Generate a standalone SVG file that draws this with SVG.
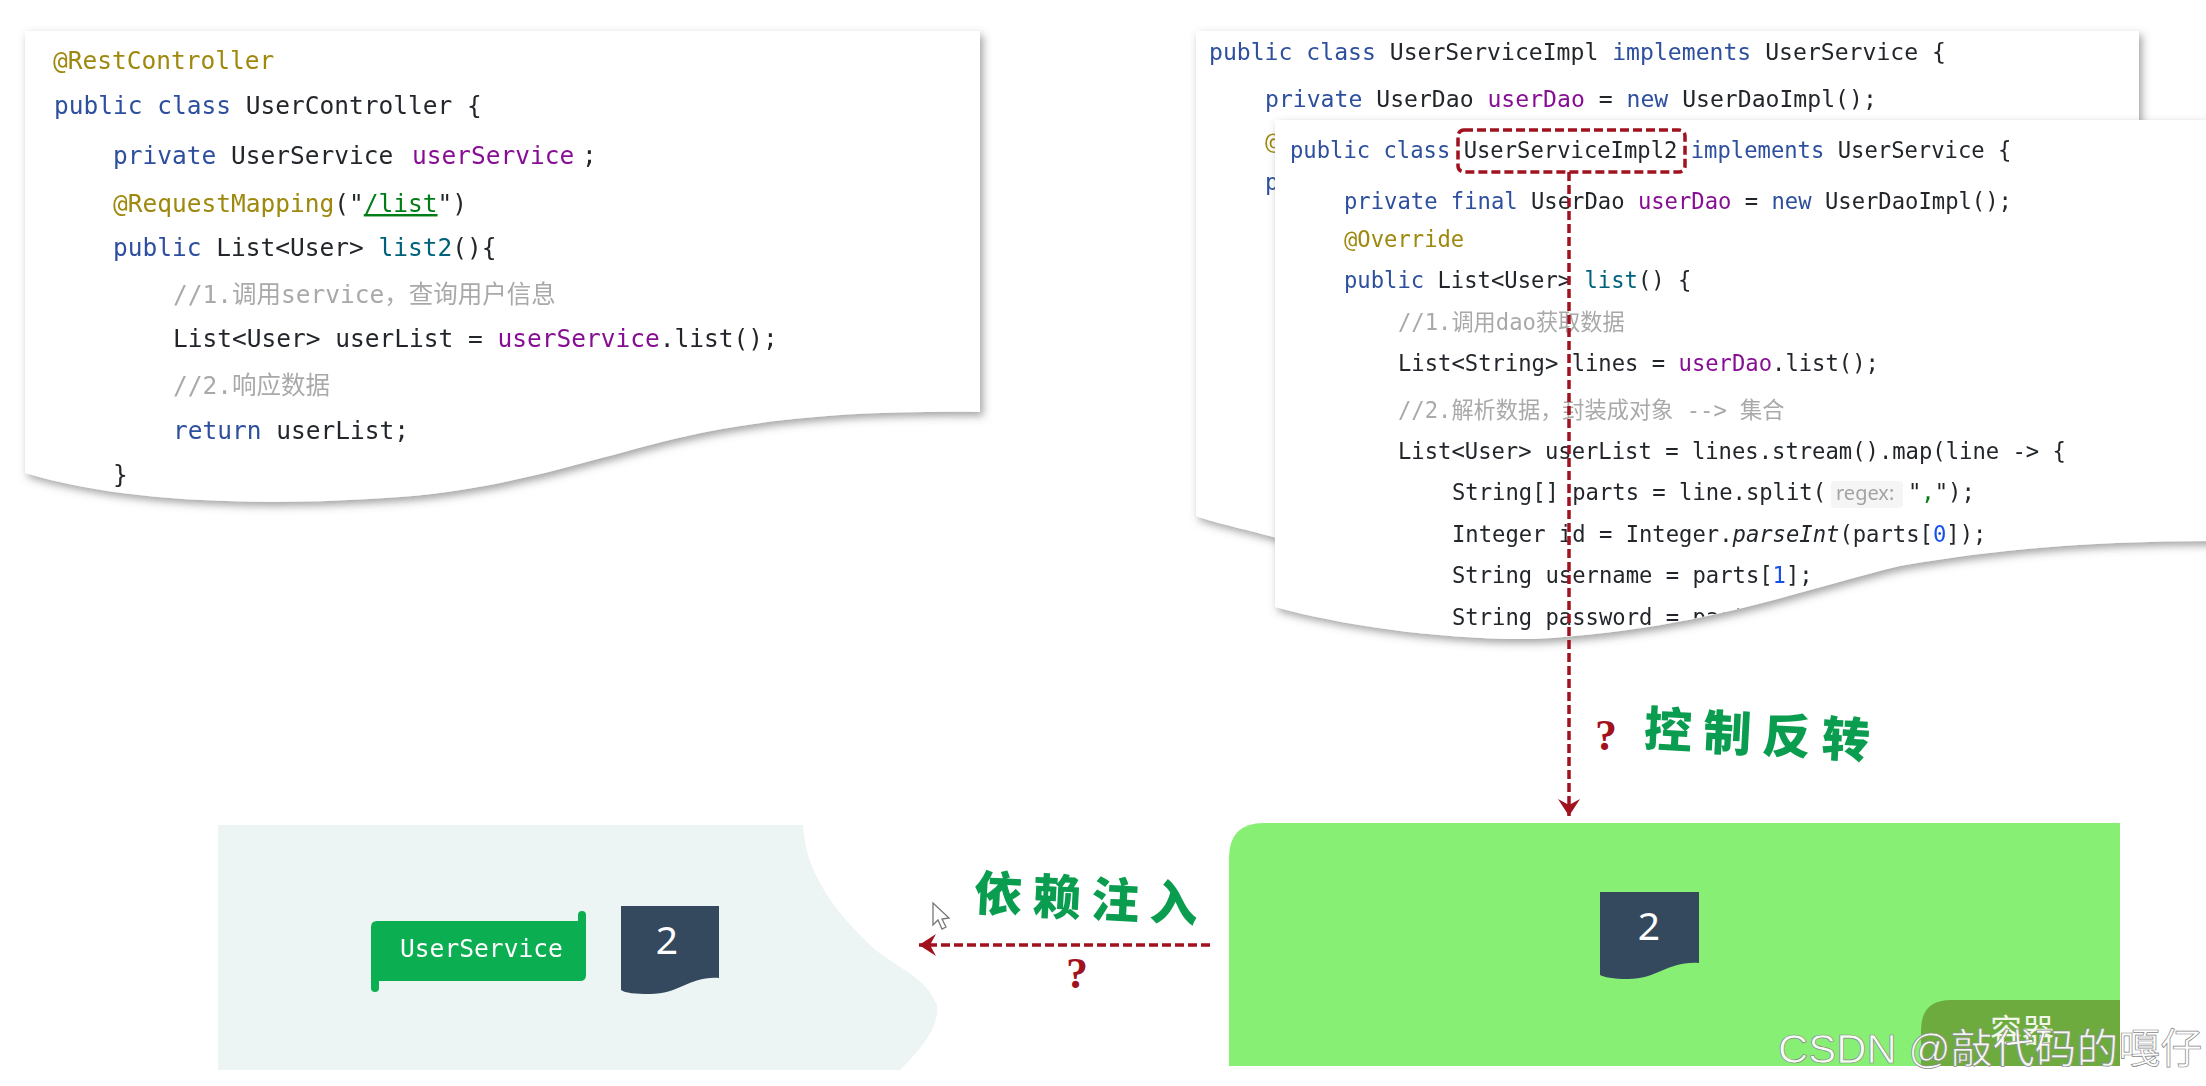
<svg xmlns="http://www.w3.org/2000/svg" width="2206" height="1086" viewBox="0 0 2206 1086">
<style>
text{white-space:pre}
.c1,.c2,.c3,.ui{font-family:"DejaVu Sans Mono","Noto Sans CJK SC",monospace}
.c1{font-size:24.5px}.c2{font-size:23.1px}.c3{font-size:22.2px}
.d{fill:#23272b}.k{fill:#2d4f9e}.f{fill:#871094}.a{fill:#9e880d}.m{fill:#00627a}.s{fill:#067d17}.n{fill:#1750eb}.g{fill:#a9a9a9}
.card{fill:#fff;filter:url(#sh)}
.blur{filter:url(#soft)}
.flow{fill:none;stroke:#a1121f;stroke-width:3.5;stroke-dasharray:9 4}
.doc{fill:#34495e}
.num{font-family:"Noto Sans",sans-serif;font-size:39px;fill:#fff;text-anchor:middle}
.hand{font-family:"Noto Sans CJK SC",sans-serif;font-weight:900;font-size:48px;fill:#0a9d4f}
.q{font-family:"Liberation Serif",serif;font-weight:700;font-size:44px;fill:#a1121f;text-anchor:middle}
.hint{font-family:"Noto Sans",sans-serif;font-size:20px;fill:#a3a3a3}
.tag{font-family:"Noto Sans CJK SC",sans-serif;font-size:32px;fill:#f2f7ea;text-anchor:middle}
.wm{font-family:"Liberation Sans","Noto Sans CJK SC",sans-serif;font-size:41px;fill:#fff;fill-opacity:.92;stroke:#888;stroke-width:.7}
</style>
<defs>
<filter id="sh" x="-5%" y="-5%" width="112%" height="115%"><feDropShadow dx="3" dy="4" stdDeviation="4" flood-color="#555" flood-opacity=".55"/></filter>
<filter id="soft"><feGaussianBlur stdDeviation=".45"/></filter>
<marker id="ah" markerUnits="userSpaceOnUse" markerWidth="24" markerHeight="28" refX="18" refY="12" orient="auto" overflow="visible"><path d="M1 1 L18 12 L1 23 L7 12Z" fill="#a1121f"/></marker>
<clipPath id="cl1"><path d="M25 31H980V412C880 411 790 415 701 433C610 452 520 488 400 497C280 506 130 505 25 473Z"/></clipPath>
<clipPath id="cl3"><path d="M1275 120H2230V541C2120 541 2020 545 1900 566C1800 590 1700 630 1533 639C1440 640 1340 625 1275 607Z"/></clipPath>
</defs>
<rect width="2206" height="1086" fill="#fff"/>

<g id="controller-card">
<path class="card" d="M25 31H980V412C880 411 790 415 701 433C610 452 520 488 400 497C280 506 130 505 25 473Z"/>
<g class="c1 blur" clip-path="url(#cl1)">
<text x="53" y="69" class="a">@RestController</text>
<text x="54" y="114" class="d"><tspan class="k">public class</tspan> UserController {</text>
<text x="113" y="164" class="d"><tspan class="k">private</tspan> UserService <tspan class="f" dx="4">userService</tspan><tspan dx="-7"> ;</tspan></text>
<text x="113" y="212" class="d"><tspan class="a">@RequestMapping</tspan>("<tspan class="s" text-decoration="underline">/list</tspan>")</text>
<text x="113" y="256" class="d"><tspan class="k">public</tspan> List&lt;User&gt; <tspan class="m">list2</tspan>(){</text>
<text x="173" y="303" class="g">//1.调用service，查询用户信息</text>
<text x="173" y="347" class="d">List&lt;User&gt; userList = <tspan class="f">userService</tspan>.list();</text>
<text x="173" y="394" class="g">//2.响应数据</text>
<text x="173" y="439" class="d"><tspan class="k">return</tspan> userList;</text>
<text x="113" y="483" class="d">}</text>
</g>
</g>

<g id="impl-card">
<path class="card" d="M1196 31H2139V300L1300 545C1260 532 1220 525 1196 516Z"/>
<g class="c2 blur">
<text x="1209" y="60" class="d"><tspan class="k">public class</tspan> UserServiceImpl <tspan class="k">implements</tspan> UserService {</text>
<text x="1265" y="107" class="d"><tspan class="k">private</tspan> UserDao <tspan class="f">userDao</tspan> = <tspan class="k">new</tspan> UserDaoImpl();</text>
<text x="1265" y="149" class="a">@</text>
<text x="1265" y="190" class="k">p</text>
</g>
</g>

<g id="impl2-card">
<path class="card" d="M1275 120H2230V541C2120 541 2020 545 1900 566C1800 590 1700 630 1533 639C1440 640 1340 625 1275 607Z"/>
<rect x="1831" y="481" width="72" height="27" rx="4" fill="#f5f5f5"/>
<g class="c3 blur" clip-path="url(#cl3)">
<text x="1290" y="158" class="d"><tspan class="k">public class</tspan> UserServiceImpl2 <tspan class="k">implements</tspan> UserService {</text>
<text x="1344" y="209" class="d"><tspan class="k">private final</tspan> UserDao <tspan class="f">userDao</tspan> = <tspan class="k">new</tspan> UserDaoImpl();</text>
<text x="1344" y="247" class="a">@Override</text>
<text x="1344" y="288" class="d"><tspan class="k">public</tspan> List&lt;User&gt; <tspan class="m">list</tspan>() {</text>
<text x="1398" y="330" class="g">//1.调用dao获取数据</text>
<text x="1398" y="371" class="d">List&lt;String&gt; lines = <tspan class="f">userDao</tspan>.list();</text>
<text x="1398" y="418" class="g">//2.解析数据，封装成对象 --&gt; 集合</text>
<text x="1398" y="459" class="d">List&lt;User&gt; userList = lines.stream().map(line -&gt; {</text>
<text x="1452" y="500" class="d">String[] parts = line.split(</text>
<text x="1836" y="500" class="hint">regex:</text>
<text x="1908" y="500" class="d">"<tspan class="s">,</tspan>");</text>
<text x="1452" y="542" class="d">Integer id = Integer.<tspan font-style="italic">parseInt</tspan>(parts[<tspan class="n">0</tspan>]);</text>
<text x="1452" y="583" class="d">String username = parts[<tspan class="n">1</tspan>];</text>
<text x="1452" y="625" class="d">String password = parts</text>
</g>
</g>

<g id="client-box">
<path d="M218 825H803C805 845 808 860 816 875C830 905 850 925 870 945C895 968 925 975 937 1005C940 1030 915 1055 900 1070H218Z" fill="#edf4f4"/>
</g>
<g id="userservice">
<path d="M371 927Q371 921 377 921H578V915Q578 911 582 911Q586 911 586 915V975Q586 981 580 981H379V988Q379 992 375 992Q371 992 371 988Z" fill="#0cae52"/>
<text class="ui blur" x="400" y="957" font-size="24.6" fill="#fff">UserService</text>
</g>
<g id="client-doc">
<path class="doc" d="M621 906H719V978C690 976 680 994 650 994C635 994 625 993 621 990Z"/>
<text class="num" x="667" y="954">2</text>
</g>

<g id="container-box">
<path d="M1229 858Q1229 823 1264 823H2120V1066H1229Z" fill="#88ef75"/>
<path d="M2120 1000H1951Q1921 1000 1921 1030V1066H2120Z" fill="#6dab3f"/>
<text class="tag" x="2022" y="1042">容器</text>
</g>
<g id="container-doc">
<path class="doc" d="M1600 892H1699V963C1668 961 1658 979 1628 979C1613 979 1604 977 1600 975Z"/>
<text class="num" x="1649" y="940">2</text>
</g>

<g id="connectors">
<rect class="flow" x="1458" y="130" width="227" height="42" rx="6"/>
<path class="flow" d="M1569 172V816" marker-end="url(#ah)"/>
<path class="flow" d="M1210 945H919" marker-end="url(#ah)"/>
</g>

<g id="labels">
<text class="hand" x="974" y="916" textLength="224" lengthAdjust="spacing" transform="rotate(3 1086 900)">依赖注入</text>
<text class="q" x="1077" y="988">?</text>
<text class="hand" x="1644" y="752" textLength="226" lengthAdjust="spacing" transform="rotate(3 1757 735)">控制反转</text>
<text class="q" x="1606" y="750">?</text>
</g>

<path id="cursor" d="M933 903V925L938 920L942 929L946 927L942 919L949 918Z" fill="#fff" stroke="#777" stroke-width="1.3"/>

<text id="watermark" class="wm" x="1778" y="1063" textLength="424" lengthAdjust="spacingAndGlyphs">CSDN @敲代码的嘎仔</text>
</svg>
